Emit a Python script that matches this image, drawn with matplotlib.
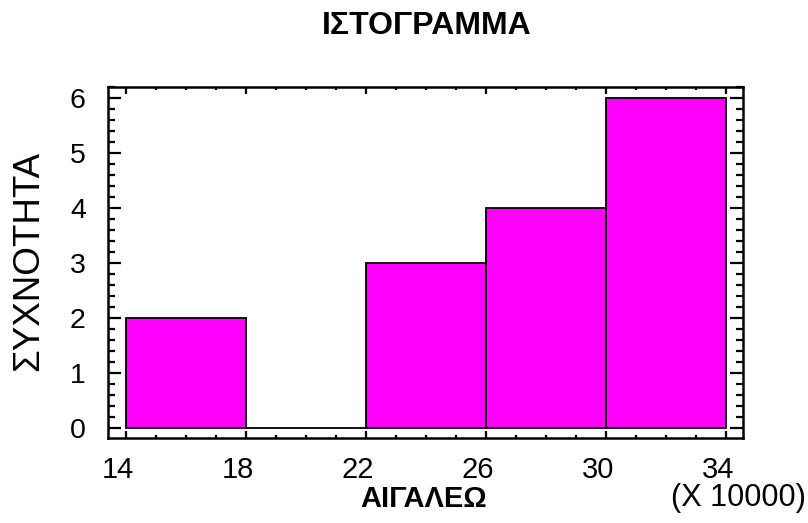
import matplotlib
matplotlib.use("Agg")
import matplotlib.pyplot as plt
import matplotlib.transforms as mtransforms
from matplotlib.ticker import MultipleLocator

# Histogram of AIGALEO values (units of 10000)
bin_edges = [14, 18, 22, 26, 30, 34]
counts = [2, 0, 3, 4, 6]
x_ticks = [14, 18, 22, 26, 30, 34]
y_ticks = [0, 1, 2, 3, 4, 5, 6]

title_text = "ΙΣΤΟΓΡΑΜΜΑ"
x_label = "ΑΙΓΑΛΕΩ"
y_label = "ΣΥΧΝΟΤΗΤΑ"
multiplier_text = "(X 10000)"

plt.rcParams["font.family"] = ["Liberation Sans", "DejaVu Sans"]

fig = plt.figure(figsize=(8.08, 5.23), dpi=100)
ax = fig.add_axes([108 / 808, 1 - 438 / 523, (743 - 108) / 808, (438 - 87) / 523])

lefts = bin_edges[:-1]
widths = [b - a for a, b in zip(bin_edges[:-1], bin_edges[1:])]
ax.bar(lefts, counts, width=widths, align="edge", color="#ff00ff",
       edgecolor="black", linewidth=1.3, zorder=2)

ax.set_xlim(13.4, 34.57)
ax.set_ylim(-0.18, 6.2)

ax.set_xticks(x_ticks)
ax.set_yticks(y_ticks)
ax.xaxis.set_minor_locator(MultipleLocator(1))
ax.yaxis.set_minor_locator(MultipleLocator(0.2))

ax.tick_params(axis="both", which="both", direction="in", top=True, right=True,
               width=1.6, color="black")
ax.tick_params(axis="x", which="major", length=5, pad=13, labelsize=21)
ax.tick_params(axis="x", which="minor", length=2.2)
ax.tick_params(axis="y", which="major", length=9.5, pad=16, labelsize=20.5)
ax.tick_params(axis="y", which="minor", length=5)

for sp in ax.spines.values():
    sp.set_linewidth(1.8)

# shift x tick labels slightly left
offset = mtransforms.ScaledTranslation(-8 / 100, 0, fig.dpi_scale_trans)
for lbl in ax.get_xticklabels():
    lbl.set_transform(lbl.get_transform() + offset)

fig.text(427 / 808, 1 - 26 / 523, title_text, ha="center", va="center",
         fontsize=23, fontweight="bold")
fig.text(424 / 808, 1 - 499 / 523, x_label, ha="center", va="center",
         fontsize=21, fontweight="bold")
fig.text(28.5 / 808, 1 - 261 / 523, y_label, ha="center", va="center",
         fontsize=26.5, rotation=90)
fig.text(806 / 808, 1 - 498 / 523, multiplier_text, ha="right", va="center",
         fontsize=22)

fig.savefig("out.png", dpi=100)
